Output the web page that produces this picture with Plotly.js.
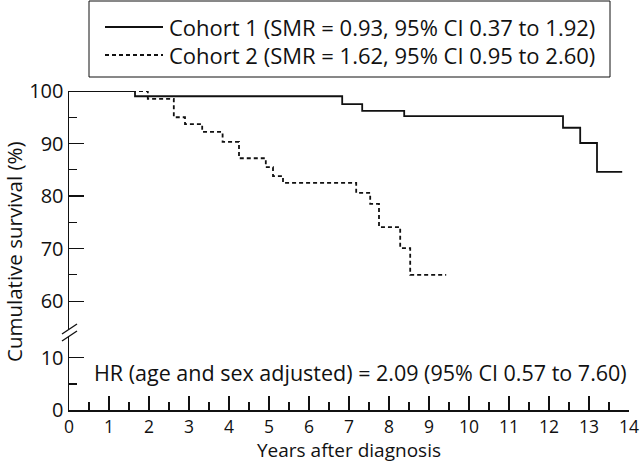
<!DOCTYPE html>
<html>
<head>
<meta charset="utf-8">
<script src="https://cdn.plot.ly/plotly-3.0.1.min.js"></script>
<style>html,body{margin:0;padding:0;background:#fff;}#chart{width:640px;height:464px;}</style>
</head>
<body>
<div id="chart"></div>
<script>
// Kaplan-Meier step data (years after diagnosis, cumulative survival %)
const cohort1Years = [0, 1.65, 6.83, 7.33, 8.38, 12.35, 12.78, 13.2, 13.83];
const cohort1Surv  = [100, 99.0, 97.5, 96.2, 95.2, 93.0, 90.1, 84.6, 84.6];
const cohort2Years = [0, 1.97, 2.62, 2.9, 3.33, 3.84, 4.25, 4.92, 5.1, 5.35, 7.18, 7.53, 7.75, 8.28, 8.53, 9.43];
const cohort2Surv  = [100, 98.5, 95.0, 93.7, 92.2, 90.3, 87.2, 85.5, 83.8, 82.5, 80.6, 78.5, 74.1, 70.1, 65.0, 65.0];
const seriesNames = [
  "Cohort 1 (SMR = 0.93, 95% CI 0.37 to 1.92)",
  "Cohort 2 (SMR = 1.62, 95% CI 0.95 to 2.60)"
];
const xTicks = [0,1,2,3,4,5,6,7,8,9,10,11,12,13,14];
const yTicksTop = [60,70,80,90,100];
const yTicksBottom = [0,10];
const hrText = "HR (age and sex adjusted) = 2.09 (95% CI 0.57 to 7.60)";
const xTitle = "Years after diagnosis";
const yTitle = "Cumulative survival (%)";

const FONT = "'Open Sans', Lato, sans-serif";
const INK = '#111';

const traces = [
  {x: cohort1Years, y: cohort1Surv, name: seriesNames[0], mode: 'lines', xaxis: 'x', yaxis: 'y2',
   line: {shape: 'hv', color: INK, width: 1.8}},
  {x: cohort2Years, y: cohort2Surv, name: seriesNames[1], mode: 'lines', xaxis: 'x', yaxis: 'y2',
   line: {shape: 'hv', color: INK, width: 1.8, dash: '4px,3px'}},
  // empty trace so the lower (0-10) panel of the broken axis is created
  {x: [null], y: [null], xaxis: 'x', yaxis: 'y', mode: 'lines', showlegend: false, hoverinfo: 'skip'}
];

const px = v => (v - 69) / 560;
const py = v => (410 - v) / 319;

const legendRows = [27, 55];
const shapes = [
  // axis break marks
  {type: 'line', xref: 'paper', yref: 'paper', x0: px(62), y0: py(334), x1: px(77), y1: py(324), line: {color: INK, width: 1.3}},
  {type: 'line', xref: 'paper', yref: 'paper', x0: px(62), y0: py(341), x1: px(77), y1: py(331), line: {color: INK, width: 1.3}},
  // legend box
  {type: 'rect', xref: 'paper', yref: 'paper', x0: px(89), y0: py(1), x1: px(610), y1: py(77), line: {color: INK, width: 1}, layer: 'below'}
];
const annotations = [
  {text: hrText, xref: 'paper', yref: 'paper', x: px(92), y: py(372), xanchor: 'left', yanchor: 'middle',
   showarrow: false, font: {size: 21.5}},
  {text: yTitle, xref: 'paper', yref: 'paper', x: px(14), y: py(252), xanchor: 'center', yanchor: 'middle',
   textangle: -90, showarrow: false, font: {size: 20.5}},
  {text: xTitle, xref: 'paper', yref: 'paper', x: 0.5, y: py(464), xanchor: 'center', yanchor: 'bottom',
   showarrow: false, font: {size: 19}, borderpad: 0}
];
traces.slice(0, 2).forEach((t, i) => {
  shapes.push({type: 'line', xref: 'paper', yref: 'paper', x0: px(105), x1: px(163), y0: py(legendRows[i]), y1: py(legendRows[i]),
               line: {color: INK, width: 1.8, dash: t.line.dash || 'solid'}});
  annotations.push({text: t.name, xref: 'paper', yref: 'paper', x: px(167), y: py(legendRows[i]), xanchor: 'left', yanchor: 'middle',
                    showarrow: false, font: {size: 22}});
});

const layout = {
  width: 640, height: 464,
  margin: {l: 69, r: 11, t: 91, b: 54, autoexpand: false},
  paper_bgcolor: '#fff', plot_bgcolor: 'rgba(0,0,0,0)',
  font: {family: FONT, size: 20, color: INK},
  showlegend: false,
  xaxis: {
    range: [0, 14], anchor: 'y', tickvals: xTicks, ticktext: xTicks.map(String),
    ticks: 'inside', ticklen: 14, tickwidth: 1.2, tickcolor: INK, ticklabeloverflow: 'allow',
    minor: {dtick: 0.5, ticks: 'inside', ticklen: 8, tickwidth: 1.2, tickcolor: INK, showgrid: false},
    showline: true, linecolor: INK, linewidth: 1.5, showgrid: false, zeroline: false,
    tickfont: {size: 17.5}
  },
  yaxis: {
    domain: [0, 0.232], range: [0, 14.2], anchor: 'x',
    tickvals: yTicksBottom, ticks: 'inside', ticklen: 15, tickwidth: 1.2, tickcolor: INK,
    minor: {tickmode: 'array', tickvals: [5], ticks: 'inside', ticklen: 8, tickwidth: 1.2, tickcolor: INK, showgrid: false},
    showline: true, linecolor: INK, linewidth: 1.5, showgrid: false, zeroline: false,
    tickfont: {size: 20}
  },
  yaxis2: {
    domain: [0.2508, 1], range: [54.5, 100], anchor: 'x',
    tickvals: yTicksTop, ticks: 'inside', ticklen: 15, tickwidth: 1.2, tickcolor: INK,
    minor: {tickmode: 'array', tickvals: [65, 75, 85, 95], ticks: 'inside', ticklen: 8, tickwidth: 1.2, tickcolor: INK, showgrid: false},
    showline: true, linecolor: INK, linewidth: 1.5, showgrid: false, zeroline: false,
    tickfont: {size: 20}
  },
  shapes: shapes,
  annotations: annotations
};

Plotly.newPlot('chart', traces, layout, {staticPlot: true, displayModeBar: false});
</script>
</body>
</html>
